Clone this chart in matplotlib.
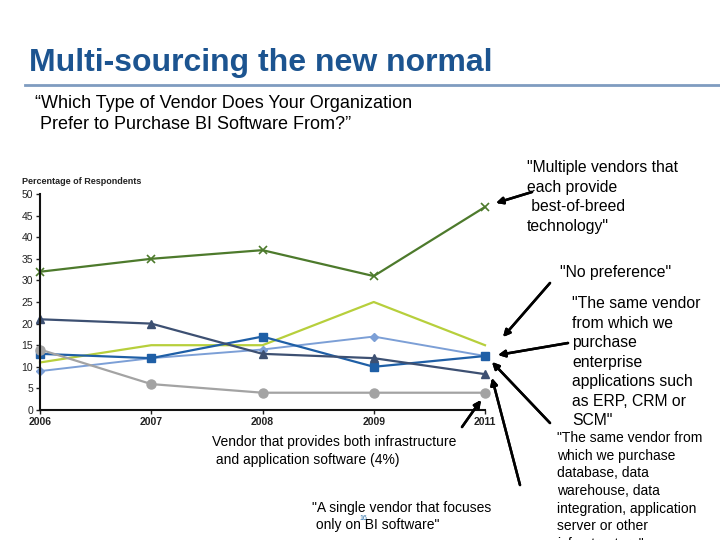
import matplotlib.pyplot as plt

plt.rcParams["font.family"] = ["Liberation Sans", "DejaVu Sans"]

years = ["2006", "2007", "2008", "2009", "2011"]

multiple_vendors = [32, 35, 37, 31, 47]
no_preference = [11, 15, 15, 25, 15]
enterprise_apps = [9, 12, 14, 17, 12.5]
infrastructure = [13, 12, 17, 10, 12.5]
bi_only = [21, 20, 13, 12, 8.3]
both_vendor = [14, 6, 4, 4, 4]

W, H = 720, 540


def px(x, y):
    # pixel position (from top-left) -> figure fraction
    return x / W, 1 - y / H


fig = plt.figure(figsize=(7.2, 5.4), dpi=100)

# header
fig.text(*px(29, 71), "Multi-sourcing the new normal", fontsize=23,
         fontweight="bold", color="#1c5490", va="baseline")
fig.add_artist(plt.Line2D([25 / W, 1], [1 - 85 / H, 1 - 85 / H],
                          color="#7f9cc0", lw=2))
fig.text(*px(35, 95), "\u201cWhich Type of Vendor Does Your Organization\n"
         " Prefer to Purchase BI Software From?\u201d",
         fontsize=13, va="top", linespacing=1.3)

# chart
ax = fig.add_axes([40 / W, 1 - 410 / H, 445 / W, 216 / H])
x = range(len(years))

ax.plot(x, multiple_vendors, color="#4d7a2c", lw=1.6, marker="x",
        ms=6, mew=1.2, clip_on=False)
ax.plot(x, no_preference, color="#b7cf3c", lw=1.6, clip_on=False)
ax.plot(x, enterprise_apps, color="#7c9fd6", lw=1.4, marker="D",
        ms=4.5, clip_on=False)
ax.plot(x, infrastructure, color="#1f5fa6", lw=1.6, marker="s",
        ms=5.5, clip_on=False)
ax.plot(x, bi_only, color="#3d5072", lw=1.6, marker="^",
        ms=6, clip_on=False)
ax.plot(x, both_vendor, color="#a3a3a3", lw=1.6, marker="o",
        ms=6.5, clip_on=False)

ax.set_xlim(0, len(years) - 1)
ax.set_ylim(0, 50)
ax.set_yticks(range(0, 51, 5))
ax.set_xticks(list(x))
ax.set_xticklabels(years, fontweight="bold")
ax.tick_params(axis="both", labelsize=7.5, colors="#222222",
               length=3, width=1)
ax.tick_params(axis="y", pad=2)
ax.tick_params(axis="x", pad=2)
for s in ["top", "right"]:
    ax.spines[s].set_visible(False)
for s in ["left", "bottom"]:
    ax.spines[s].set_linewidth(1.5)
    ax.spines[s].set_color("#111111")

fig.text(*px(22, 181), "Percentage of Respondents", fontsize=6.5,
         fontweight="bold", color="#222222", va="center")

# callouts
fs = 11.3
fig.text(*px(527, 160), "\"Multiple vendors that\neach provide\n"
         " best-of-breed\ntechnology\"", fontsize=fs, va="top",
         linespacing=1.38)
fig.text(*px(560, 273), "\"No preference\"", fontsize=fs, va="center")
fig.text(*px(572, 296), "\"The same vendor\nfrom which we\npurchase\n"
         "enterprise\napplications such\nas ERP, CRM or\nSCM\"",
         fontsize=fs, va="top", linespacing=1.38)
fig.text(*px(557, 431), "\"The same vendor from\nwhich we purchase\n"
         "database, data\nwarehouse, data\nintegration, application\n"
         "server or other\ninfrastructure\"",
         fontsize=10, va="top", linespacing=1.33)
fig.text(*px(212, 435), "Vendor that provides both infrastructure\n"
         " and application software (4%)", fontsize=10, va="top",
         linespacing=1.35)
fig.text(*px(312, 501), "\"A single vendor that focuses\n"
         " only on BI software\"", fontsize=10, va="top",
         linespacing=1.23)
fig.text(*px(359, 519), "16", fontsize=5, color="#2a6fa8", va="center")

arrows = [
    ((532, 192), (496, 203)),
    ((550, 283), (503, 337)),
    ((568, 343), (498, 355)),
    ((550, 423), (492, 362)),
    ((520, 485), (492, 378)),
    ((462, 427), (481, 400)),
]
for start, end in arrows:
    fig.add_artist(plt.annotate(
        "", xy=px(*end), xytext=px(*start),
        xycoords="figure fraction", textcoords="figure fraction",
        arrowprops=dict(arrowstyle="-|>", color="black", lw=1.8,
                        mutation_scale=10, shrinkA=0, shrinkB=0)))

fig.savefig("out.png", dpi=100)
